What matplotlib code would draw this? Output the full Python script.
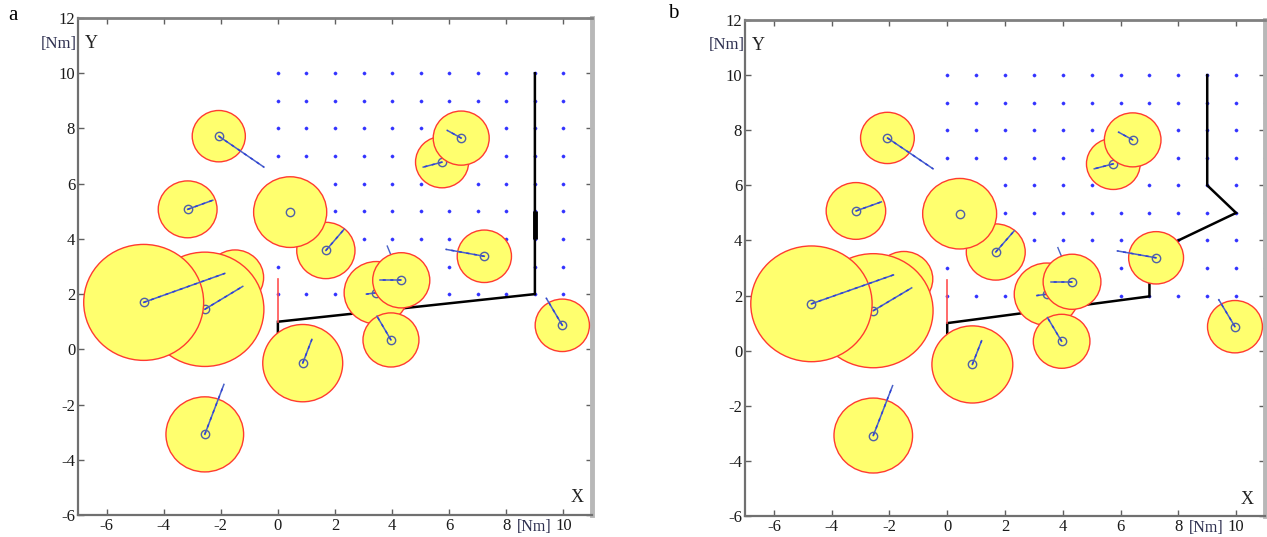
import matplotlib
matplotlib.use("Agg")
import matplotlib.pyplot as plt
from matplotlib.patches import Circle
import numpy as np

# ---------------- data ----------------
# obstacles (same in both panels): centre, radius, heading-line end point
obs_x = [-1.50, -2.56, -4.70, -3.16, -2.07, 1.68, 0.43, 0.87, -2.56, 3.45, 4.32, 3.96, 5.75, 6.42, 7.23, 9.96]
obs_y = [2.60, 1.45, 1.70, 5.07, 7.72, 3.58, 4.97, -0.50, -3.08, 2.05, 2.50, 0.34, 6.78, 7.65, 3.37, 0.87]
obs_r = [1.00, 2.07, 2.10, 1.03, 0.93, 1.02, 1.28, 1.40, 1.36, 1.13, 1.00, 0.98, 0.93, 0.98, 0.95, 0.95]
head_x = [None, -1.23, -1.86, -2.28, -0.49, 2.32, None, 1.19, -1.89, 3.10, 3.58, 3.47, 5.09, 5.93, 5.89, 9.40]
head_y = [None, 2.28, 2.75, 5.40, 6.60, 4.35, None, 0.36, -1.27, 2.00, 2.50, 1.20, 6.60, 7.93, 3.62, 1.85]
# earlier heading line (mostly hidden under its obstacle)
prev_from = [10]
prev_x = [3.83]
prev_y = [3.74]

# grid of target points
grid_xs = list(range(0, 12))
grid_ys = list(range(2, 11))

# robot paths
path_a_x = [0, 0, 9, 9]
path_a_y = [0, 1, 2, 10]
thick_a_x = [9, 9]
thick_a_y = [4, 5]
path_b_x = [0, 0, 7, 7, 7, 8, 10, 9, 9]
path_b_y = [0, 1, 1.97, 2.5, 3.0, 4, 5, 6, 10]
start_x = [0, 0]
start_y = [1, 2.55]

xticks = [-6, -4, -2, 0, 2, 4, 6, 8, 10]
yticks = [-6, -4, -2, 0, 2, 4, 6, 8, 10, 12]

# ---------------- drawing ----------------
SERIF = ["Liberation Serif", "DejaVu Serif"]
plt.rcParams["font.family"] = SERIF

W, H = 1267, 537
fig = plt.figure(figsize=(W / 100, H / 100), dpi=100)
fig.patch.set_facecolor("white")

FILL = "#ffff6e"
EDGE = "#ff3b30"
LINEC = "#4a62c8"
MARKC = "#4f5fa8"
DOTC = "#3333ff"


def px_box(l, r, t, b):
    return [l / W, 1 - b / H, (r - l) / W, (b - t) / H]


def draw_panel(ax, px, py, thick=None):
    ax.set_xlim(-7, 11)
    ax.set_ylim(-6, 12)
    gx, gy = np.meshgrid(grid_xs, grid_ys)
    ax.plot(gx.ravel(), gy.ravel(), ls="none", marker="o", ms=2.3,
            color=DOTC, mec=DOTC, mew=0.3, zorder=1)
    ax.plot(px, py, color="black", lw=1.8, zorder=2, solid_joinstyle="miter")
    if thick is not None:
        ax.plot(thick[0], thick[1], color="black", lw=3.5, zorder=2, solid_capstyle="butt")
    ax.plot(start_x, start_y, color="#ff5050", lw=1.2, zorder=2)
    z = 3
    for i, (cx, cy) in enumerate(zip(obs_x, obs_y)):
        for k, j in enumerate(prev_from):
            if j == i:
                ax.plot([cx, prev_x[k]], [cy, prev_y[k]], color=LINEC, lw=1.0, zorder=z)
        z += 1
        ax.add_patch(Circle((cx, cy), obs_r[i], facecolor=FILL, edgecolor=EDGE,
                            lw=1.0, zorder=z))
        z += 1
        if head_x[i] is not None:
            ax.plot([cx, head_x[i]], [cy, head_y[i]], color=LINEC, lw=1.1, zorder=z)
            ax.plot([cx, head_x[i]], [cy, head_y[i]], color="#2e3fd8", lw=1.1,
                    ls=(0, (2, 3)), zorder=z)
        ax.plot([cx], [cy], marker="o", ms=6, mfc="none", mec=MARKC, mew=1.0, zorder=z)
        z += 1

    ax.set_xticks(xticks)
    ax.set_yticks(yticks)
    ax.set_xticklabels([str(t) for t in xticks])
    ax.set_yticklabels([str(t) for t in yticks])
    ax.tick_params(direction="in", length=4, width=1, colors="#606060",
                   labelcolor="#1a1a1a", labelsize=12, top=True, right=True, pad=2)
    for lab in ax.get_xticklabels() + ax.get_yticklabels():
        lab.set_family(SERIF)
    for s in ["left", "bottom"]:
        ax.spines[s].set_color("#707070")
        ax.spines[s].set_linewidth(1.6)
    ax.spines["top"].set_color("#808080")
    ax.spines["top"].set_linewidth(2.0)
    ax.spines["right"].set_color("#b8b8b8")
    ax.spines["right"].set_linewidth(3.5)
    ax.set_zorder(1)


ax_a = fig.add_axes(px_box(78, 592, 18, 515))
draw_panel(ax_a, path_a_x, path_a_y, thick=(thick_a_x, thick_a_y))
ax_b = fig.add_axes(px_box(745, 1265, 20, 516))
draw_panel(ax_b, path_b_x, path_b_y)


def fig_text(x, y, s, **kw):
    fig.text(x / W, 1 - y / H, s, family=SERIF, **kw)


# panel letters
fig_text(13, 15, "a", fontsize=15, ha="center", va="center", color="black")
fig_text(673, 14, "b", fontsize=15, ha="center", va="center", color="black")
# axis annotations
for (ux, yx, ty, xx, xy, nx, ny) in [(59, 91, 44, 577, 498, 534, 527),
                                      (727, 758, 45, 1247, 499, 1206, 528)]:
    fig_text(ux, ty, "[Nm]", fontsize=12, ha="center", va="center", color="#2e3050")
    fig_text(yx, ty, "Y", fontsize=13, ha="center", va="center", color="#222222")
    fig_text(xx, xy, "X", fontsize=13, ha="center", va="center", color="#222222")
    fig_text(nx, ny, "[Nm]", fontsize=11.5, ha="center", va="center", color="#2e3050")

fig.savefig("out.png", dpi=100, facecolor="white")
